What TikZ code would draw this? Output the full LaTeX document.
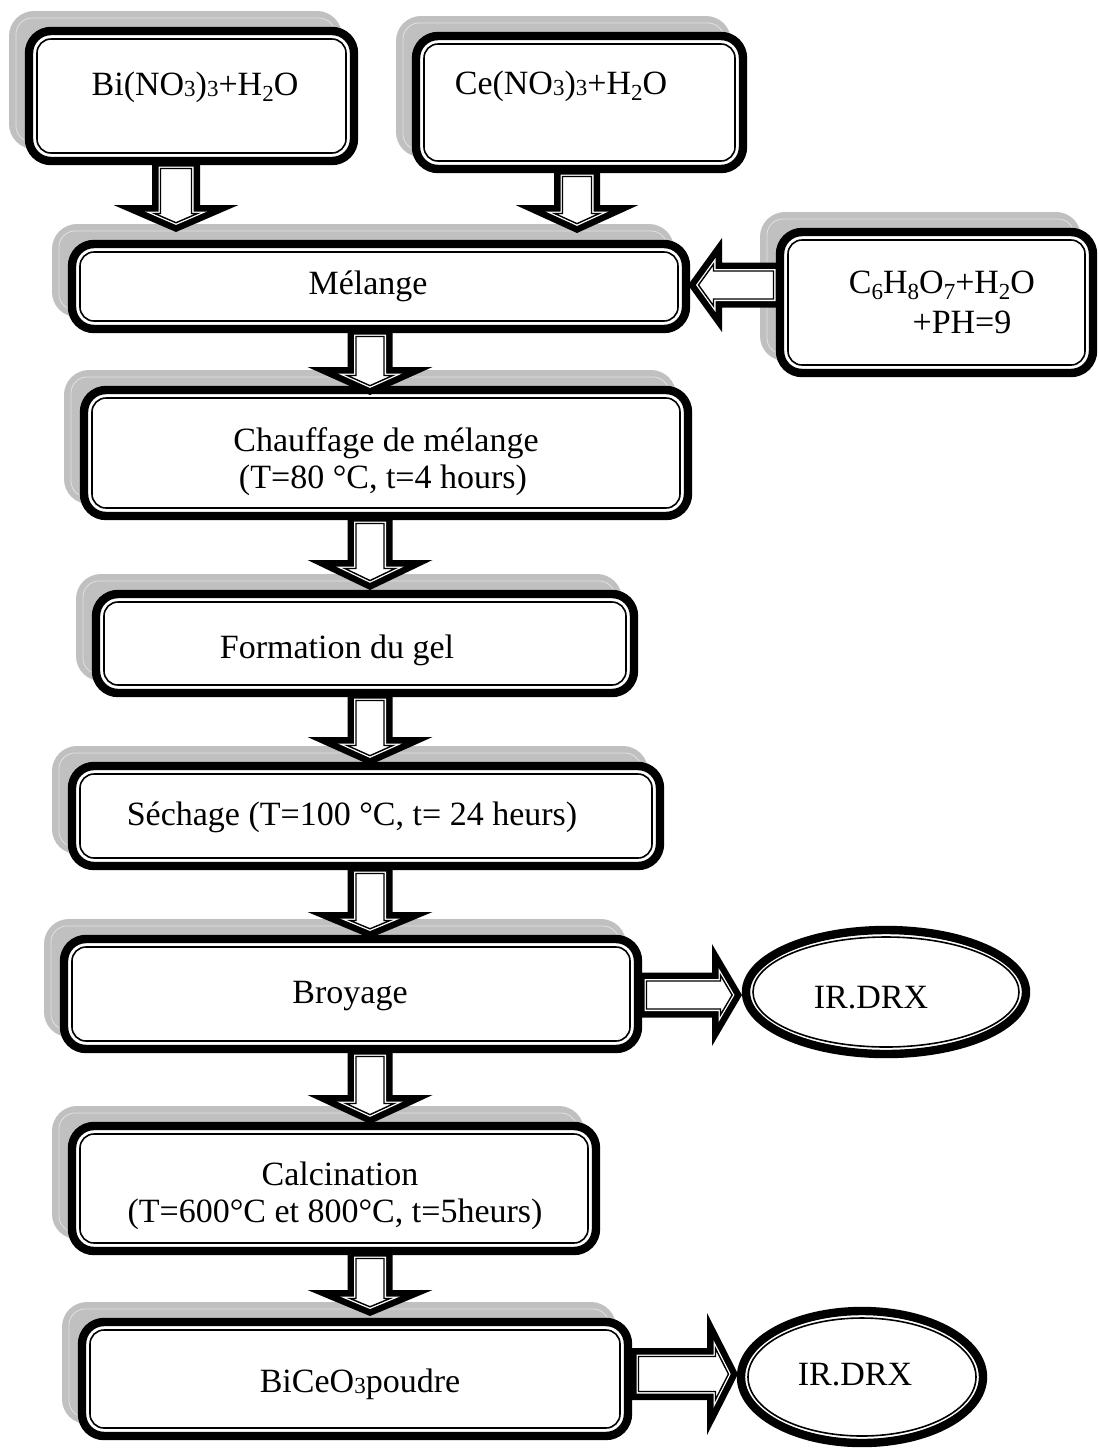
\documentclass[tikz,border=0pt]{standalone}
\usepackage{fontspec}
\setmainfont{Liberation Serif}
\definecolor{shadowgray}{RGB}{192,192,192}
\definecolor{shadowedge}{RGB}{225,225,225}
\newcommand\lowdig[1]{\raisebox{-0.1ex}{\fontsize{11.5}{11.5}\selectfont #1}}
\newcommand\subdig[1]{\raisebox{-0.4ex}{\fontsize{11.5}{11.5}\selectfont #1}}
\tikzset{
  shadowfill/.style={fill=shadowgray, rounded corners=12.5pt},
  shadowline/.style={draw=shadowedge, line width=0.4pt, rounded corners=8pt},
  outerband/.style={draw=black, fill=white, line width=4.2pt, rounded corners=11pt},
  innerline/.style={draw=black, line width=0.8pt, rounded corners=7pt},
  ovalouter/.style={draw=black, fill=white, line width=4.2pt},
  ovalinner/.style={draw=black, line width=0.8pt},
  lbl/.style={font=\fontsize{17}{20}\selectfont, inner sep=0pt, anchor=base},
}
\newcommand\procbox[5]{%
  \fill[shadowfill] ({#2-16},{#3-16}) rectangle ({#4-16},{#5-16});
  \draw[shadowline] ({#2-9},{#3-9}) rectangle ({#4-23},{#5-23});
  \draw[outerband] ({#2+4},{#3+4}) rectangle ({#4-4},{#5-4});
  \draw[innerline] ({#2+12},{#3+12}) rectangle ({#4-12},{#5-12});
  \coordinate (#1) at ({(#2+#4)/2},{(#3+#5)/2});
}
\newcommand\ovalbox[5]{%
  \draw[ovalouter] (#2,#3) ellipse [x radius={#4-4}, y radius={#5-4}];
  \draw[ovalinner] (#2,#3) ellipse [x radius={#4-11}, y radius={#5-11}];
  \coordinate (#1) at (#2,#3);
}
\newcommand\AP[2]{({\ax+(#1)*(\adx)+(#2)*(\apx)},{\ay+(#1)*(\ady)+(#2)*(\apy)})}
\newcommand\arrowlayer[2]{%
  \pgfmathsetmacro\sa{\aa-#1}%
  \pgfmathsetmacro\su{#1}%
  \pgfmathsetmacro\sh{\auh+#1}%
  \pgfmathsetmacro\sb{\ab-#1*(\aL+\ab)/\ahh}%
  \pgfmathsetmacro\st{\atip-#1*\aL/\ab}%
  \path[#2, line join=miter] \AP{\su}{-\sa} -- \AP{\sh}{-\sa} -- \AP{\sh}{-\sb} -- \AP{\st}{0} -- \AP{\sh}{\sb} -- \AP{\sh}{\sa} -- \AP{\su}{\sa} -- cycle;
}
\newcommand\fatarrow[8]{%
  \def\ax{#1}\def\ay{#2}\def\adx{#3}\def\ady{#4}%
  \pgfmathsetmacro\apx{-1*(#4)}\pgfmathsetmacro\apy{#3}%
  \def\auh{#5}\def\atip{#6}\def\aa{#7}\def\ab{#8}%
  \pgfmathsetmacro\ahh{#6-#5}%
  \pgfmathsetmacro\aL{sqrt((#8)*(#8)+\ahh*\ahh)}%
  \arrowlayer{0}{fill=black}%
  \arrowlayer{6.5}{fill=white}%
  \arrowlayer{8.5}{draw=black, line width=0.7pt}%
}
\begin{document}
\begin{tikzpicture}[x=0.5pt, y=-0.5pt]
\useasboundingbox (0,0) rectangle (1099,1448);
\fill[white] (0,0) rectangle (1099,1448);

% boxes
\procbox{bi}{25}{27}{358}{165}
\procbox{ce}{412}{32}{747}{173}
\procbox{mel}{68}{240}{690}{333}
\procbox{cit}{776}{228}{1097}{377}
\procbox{chauf}{80}{386}{692}{520}
\procbox{gel}{92}{590}{638}{697}
\procbox{sech}{68}{762}{664}{870}
\procbox{broy}{60}{935}{642}{1053}
\procbox{calc}{68}{1122}{600}{1255}
\procbox{pow}{78}{1318}{632}{1440}
\ovalbox{ir1}{886}{992}{144}{66}
\ovalbox{ir2}{862}{1377}{125}{70}

% texts
\node[lbl] (tbi) at (195,95) {Bi(NO\lowdig{3})\lowdig{3}+H\subdig{2}O};
\node[lbl] (tce) at (561,94) {Ce(NO\lowdig{3})\lowdig{3}+H\subdig{2}O};
\node[lbl] (tmel) at (368,294) {Mélange};
\node[lbl] (tcit1) at (942,293) {C\subdig{6}H\subdig{8}O\subdig{7}+H\subdig{2}O};
\node[lbl] (tcit2) at (962,333) {+PH=9};
\node[lbl] (tch1) at (386,451) {Chauffage de mélange};
\node[lbl] (tch2) at (383,488) {(T=80 °C, t=4 hours)};
\node[lbl] (tgel) at (337,658) {Formation du gel};
\node[lbl] (tsech) at (352,825) {Séchage (T=100 °C, t= 24 heurs)};
\node[lbl] (tbroy) at (350,1003) {Broyage};
\node[lbl] (tcal1) at (340,1185) {Calcination};
\node[lbl] (tcal2) at (335,1222) {(T=600°C et 800°C, t=5heurs)};
\node[lbl] (tpow) at (360,1392) {BiCeO\lowdig{3}poudre};
\node[lbl] (tir1) at (871,1008) {IR.DRX};
\node[lbl] (tir2) at (855,1385) {IR.DRX};

% block arrows
\fatarrow{176}{160}{0}{1}{45}{72}{24}{62.5}
\fatarrow{577}{168}{0}{1}{37}{65}{23}{61.5}
\fatarrow{782}{285}{-1}{0}{60}{94}{22.5}{47}
\fatarrow{370}{328}{0}{1}{39}{67}{22.5}{62.5}
\fatarrow{370}{515}{0}{1}{45}{75}{22.5}{62.5}
\fatarrow{370}{692}{0}{1}{45}{73}{22.5}{62.5}
\fatarrow{370}{865}{0}{1}{47}{73}{22.5}{62.5}
\fatarrow{370}{1048}{0}{1}{47}{76}{22.5}{62.5}
\fatarrow{370}{1250}{0}{1}{40}{66}{22.5}{62.5}
\fatarrow{638}{995}{1}{0}{74}{104}{22.5}{51}
\fatarrow{630}{1374}{1}{0}{77}{108}{26}{61}
\end{tikzpicture}
\end{document}
